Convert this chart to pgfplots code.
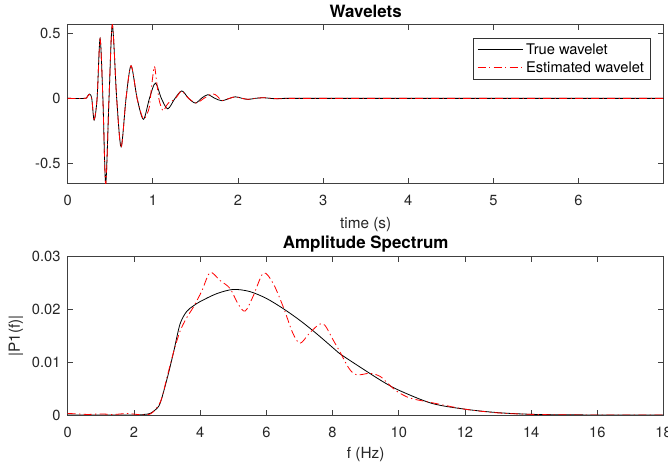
\documentclass[border=0pt]{standalone}
\usepackage{fontspec}
\setmainfont{TeX Gyre Heros}
\usepackage{pgfplots}
\pgfplotsset{compat=1.18}
\definecolor{axgray}{gray}{0.25}
\definecolor{txtgray}{gray}{0.15}

\pgfplotsset{mystyle/.style={
  scale only axis, width=446.9pt, anchor=south west,
  axis line style={axgray, line width=0.6pt},
  every tick/.style={axgray, line width=0.6pt},
  tick align=inside, major tick length=4pt,
  every tick label/.append style={font=\fontsize{11}{13}\selectfont, text=txtgray},
  xticklabel style={anchor=base, yshift=-17pt, inner sep=0pt},
  yticklabel style={anchor=east, xshift=-5.25pt, inner sep=0pt},
  every axis title/.style={at={(axis description cs:0.5,1)}, anchor=base, inner sep=0pt, font=\bfseries\fontsize{12.7}{14}\selectfont},
  every axis x label/.style={at={(axis description cs:0.5,0)}, anchor=base, inner sep=0pt, font=\fontsize{11.5}{13}\selectfont, text=txtgray},
  every axis y label/.style={rotate=90, anchor=base, inner sep=0pt, font=\fontsize{11.5}{13}\selectfont, text=txtgray},
  scaled ticks=false,
  clip=true,
}}

\pgfplotstableread{
t y
0 0
0.20 0
0.225 0.008
0.254 0.033
0.282 0
0.31 -0.166
0.345 0
0.38 0.458
0.413 0
0.446 -0.65
0.485 0
0.524 0.56
0.575 0
0.627 -0.37
0.685 0
0.744 0.249
0.815 0
0.889 -0.16
0.96 0
1.03 0.117
1.10 0
1.175 -0.08
1.26 0
1.34 0.057
1.42 0
1.50 -0.036
1.57 0
1.645 0.028
1.73 0
1.81 -0.018
1.90 0
1.97 0.012
2.05 0
2.12 -0.008
2.20 0
2.30 0.005
2.38 0
2.45 -0.003
2.55 0
3 0
7 0
}\truewav

\pgfplotstableread{
t y
0 0
0.20 0
0.225 0.008
0.254 0.03
0.282 0
0.31 -0.16
0.345 0
0.38 0.455
0.413 0
0.446 -0.66
0.485 0
0.524 0.565
0.575 0
0.627 -0.375
0.685 0
0.744 0.25
0.815 0
0.885 -0.155
0.93 -0.12
0.96 -0.06
0.99 0.12
1.018 0.245
1.04 0.15
1.07 0
1.10 -0.07
1.125 -0.095
1.16 -0.055
1.20 -0.025
1.25 -0.012
1.29 0.02
1.34 0.055
1.42 0
1.51 -0.035
1.60 0
1.70 0.036
1.76 0.015
1.81 -0.016
1.90 0
1.97 0.012
2.05 0
2.12 -0.007
2.20 0
2.30 0.005
2.40 0
2.50 -0.003
2.60 0
3 0
7 0
}\estwav

\pgfplotstableread{
f a
0 0
2.0 0
2.3 0.0001
2.49 0.0003
2.65 0.001
2.79 0.0022
2.99 0.0066
3.19 0.0117
3.39 0.0172
3.59 0.0196
3.8 0.0207
4.0 0.0215
4.5 0.023
5.0 0.0238
5.5 0.0234
6.0 0.0221
6.5 0.0202
7.0 0.018
7.5 0.0155
8.0 0.0128
8.2 0.0117
8.9 0.0088
9.5 0.0064
10.0 0.0047
11.0 0.0022
12.0 0.0011
13.0 0.00044
14.0 0.00013
15 0.00004
16 0.00001
18 0
}\truespec

\pgfplotstableread{
f a
0 0.0003
0.3 0.0002
0.6 0.0001
1.0 0.0002
1.4 0.0001
1.8 0.0003
2.1 0.0001
2.5 0.0002
2.8 0.0025
3.0 0.0072
3.2 0.012
3.4 0.016
3.6 0.0185
3.8 0.0205
4.05 0.0235
4.3 0.027
4.6 0.0255
4.9 0.024
5.15 0.021
5.36 0.0197
5.6 0.0225
5.91 0.0269
6.2 0.025
6.51 0.0205
6.8 0.0155
7.02 0.0136
7.3 0.0155
7.6 0.0172
7.77 0.017
8.02 0.0142
8.22 0.012
8.5 0.0088
8.73 0.0076
9.13 0.0079
9.44 0.0073
9.7 0.0058
9.94 0.0045
10.34 0.0032
10.95 0.0024
12 0.0011
13 0.0004
14 0.00012
15 0.00003
16 0.00001
18 0
}\estspec

\begin{document}
\begin{tikzpicture}
\path[use as bounding box] (0,0) rectangle (501pt,349.5pt);

\begin{axis}[mystyle,
  at={(50.8pt,212pt)}, height=119.1pt,
  xmin=0, xmax=7, ymin=-0.65, ymax=0.565,
  xtick={0,1,2,3,4,5,6}, xticklabels={0,1,2,3,4,5,6},
  ytick={-0.5,0,0.5}, yticklabels={-0.5,0,0.5},
  title={Wavelets}, title style={yshift=5.4pt},
  xlabel={time (s)}, xlabel style={yshift=-34pt},
  legend cell align=left,
  legend style={at={(1,1)}, anchor=north east, xshift=-9.6pt, yshift=-9.9pt,
    draw=black!80, font=\fontsize{11}{12}\selectfont},
]
\addplot[color=black, line width=0.6pt, smooth, tension=0.5, forget plot] table[x=t,y=y] {\truewav};
\addplot[color=red, line width=0.6pt, smooth, tension=0.5, dash pattern=on 6pt off 2.5pt on 1pt off 2.5pt, forget plot] table[x=t,y=y] {\estwav};
\addlegendimage{legend image code/.code={\color{black}\draw[draw=black, line width=0.6pt] (0pt,0pt) -- (34pt,0pt);}}
\addlegendentry{True wavelet}
\addlegendimage{legend image code/.code={\color{red}\draw[draw=red, line width=0.6pt, dash pattern=on 6pt off 2.5pt on 1pt off 2.5pt] (0pt,0pt) -- (34pt,0pt);}}
\addlegendentry{Estimated wavelet}
\end{axis}

\begin{axis}[mystyle,
  at={(50.8pt,38.25pt)}, height=118.7pt,
  xmin=0, xmax=18, ymin=0, ymax=0.03,
  xtick={0,2,4,6,8,10,12,14,16,18}, xticklabels={0,2,4,6,8,10,12,14,16,18},
  ytick={0,0.01,0.02,0.03}, yticklabels={0,0.01,0.02,0.03},
  title={Amplitude Spectrum}, title style={yshift=6.3pt},
  xlabel={f (Hz)}, xlabel style={yshift=-32.5pt},
  ylabel={|P1(f)|},
  ylabel style={at={([xshift=-35.8pt]axis description cs:0,0.5)}},
]
\addplot[color=black, line width=0.6pt, smooth, tension=0.5] table[x=f,y=a] {\truespec};
\addplot[color=red, line width=0.6pt, smooth, tension=0.5, dash pattern=on 6pt off 2.5pt on 1pt off 2.5pt] table[x=f,y=a] {\estspec};
\end{axis}
\end{tikzpicture}
\end{document}
